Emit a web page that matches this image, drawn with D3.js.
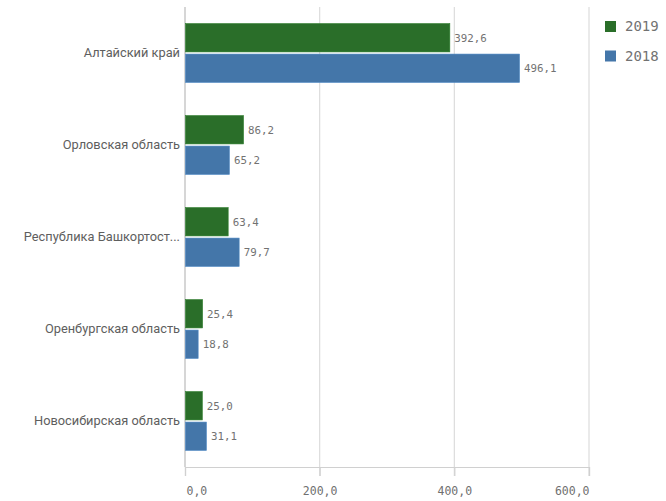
<!DOCTYPE html>
<html><head><meta charset="utf-8">
<script src="https://cdn.jsdelivr.net/npm/d3@7"></script>
<style>body{margin:0;background:#fff}svg{display:block}</style>
</head><body>
<svg id="c" width="666" height="501"></svg>
<script>
const categories = ["Алтайский край","Орловская область","Республика Башкортостан","Оренбургская область","Новосибирская область"];
const displayLabels = ["Алтайский край","Орловская область","Республика Башкортост...","Оренбургская область","Новосибирская область"];
const seriesNames = ["2019","2018"];
const values2019 = [392.6, 86.2, 63.4, 25.4, 25.0];
const values2018 = [496.1, 65.2, 79.7, 18.8, 31.1];
const tickValues = [0, 200, 400, 600];
const colors = ["#2a6e29", "#4476a9"];

(function () {
const svg = d3.select("#c");
const mLeft = 185, mRight = 589, mTop = 7, mBottom = 467;
const x = d3.scaleLinear().domain([0, 600]).range([mLeft, mRight]);
const y0 = d3.scaleBand().domain(categories).range([mTop, mBottom]).paddingInner(0.36).paddingOuter(0.18);
const y1 = d3.scaleBand().domain(seriesNames).range([0, y0.bandwidth()]).paddingInner(0.07);
const fmt = v => d3.format(".1f")(v).replace(".", ",");
const seriesVals = {"2019": values2019, "2018": values2018};

// gridlines
svg.append("g").selectAll("line").data(tickValues.slice(1)).join("line")
  .attr("x1", d => x(d)).attr("x2", d => x(d))
  .attr("y1", mTop).attr("y2", mBottom + 9)
  .attr("stroke", "#dcdcdc").attr("stroke-width", 1.2);

// axis
const xAxis = d3.axisBottom(x).tickValues(tickValues).tickSize(9).tickFormat(fmt);
const ax = svg.append("g").attr("transform", `translate(0,${mBottom})`).call(xAxis);
ax.select(".domain").attr("stroke", "#d0d0d0").attr("stroke-width", 1.2);
ax.selectAll(".tick line").attr("stroke", "#d0d0d0").attr("stroke-width", 1.2);
ax.selectAll(".tick text").attr("dy", "0").attr("y", 28)
  .attr("font-family", "DejaVu Sans Mono").attr("font-size", 11.5).attr("fill", "#707070")
  .attr("text-anchor", (d, i) => i === 0 ? "start" : (i === tickValues.length - 1 ? "end" : "middle"))
  .attr("x", (d, i) => i === 0 ? 1 : 0);
// vertical axis line
svg.append("line").attr("x1", mLeft).attr("x2", mLeft).attr("y1", mTop).attr("y2", mBottom)
  .attr("stroke", "#c8c8c8").attr("stroke-width", 1.5);

// bars
const groups = svg.append("g").selectAll("g").data(categories).join("g")
  .attr("transform", d => `translate(0,${y0(d)})`);
groups.each(function(cat, i) {
  const g = d3.select(this);
  seriesNames.forEach((s, j) => {
    const v = seriesVals[s][i];
    g.append("rect").attr("x", x(0) + 0.5).attr("y", y1(s))
      .attr("width", x(v) - x(0)).attr("height", y1.bandwidth())
      .attr("fill", colors[j]).attr("stroke", d3.color(colors[j]).brighter(0.4)).attr("stroke-width", 0.6);
    g.append("text").attr("x", x(v) + 5).attr("y", y1(s) + y1.bandwidth() / 2)
      .attr("dy", "0.35em").attr("font-family", "DejaVu Sans Mono").attr("font-size", 10.8)
      .attr("fill", "#727272").text(fmt(v));
  });
});

// category labels
svg.append("g").selectAll("text").data(categories).join("text")
  .attr("x", mLeft - 5).attr("y", d => y0(d) + y0.bandwidth() / 2)
  .attr("dy", "0.35em").attr("text-anchor", "end")
  .attr("font-family", "Roboto").attr("font-size", 12.8).attr("fill", "#5e5e5e")
  .text((d, i) => displayLabels[i]);

// legend
const lg = svg.append("g").selectAll("g").data(seriesNames).join("g")
  .attr("transform", (d, i) => `translate(605,${21 + i * 29.5})`);
lg.append("rect").attr("width", 11).attr("height", 11).attr("fill", (d, i) => colors[i]);
lg.append("text").attr("x", 20).attr("y", 5.5).attr("dy", "0.35em")
  .attr("font-family", "DejaVu Sans Mono").attr("font-size", 14).attr("fill", "#727272").text(d => d);
})();
</script>
</body></html>
